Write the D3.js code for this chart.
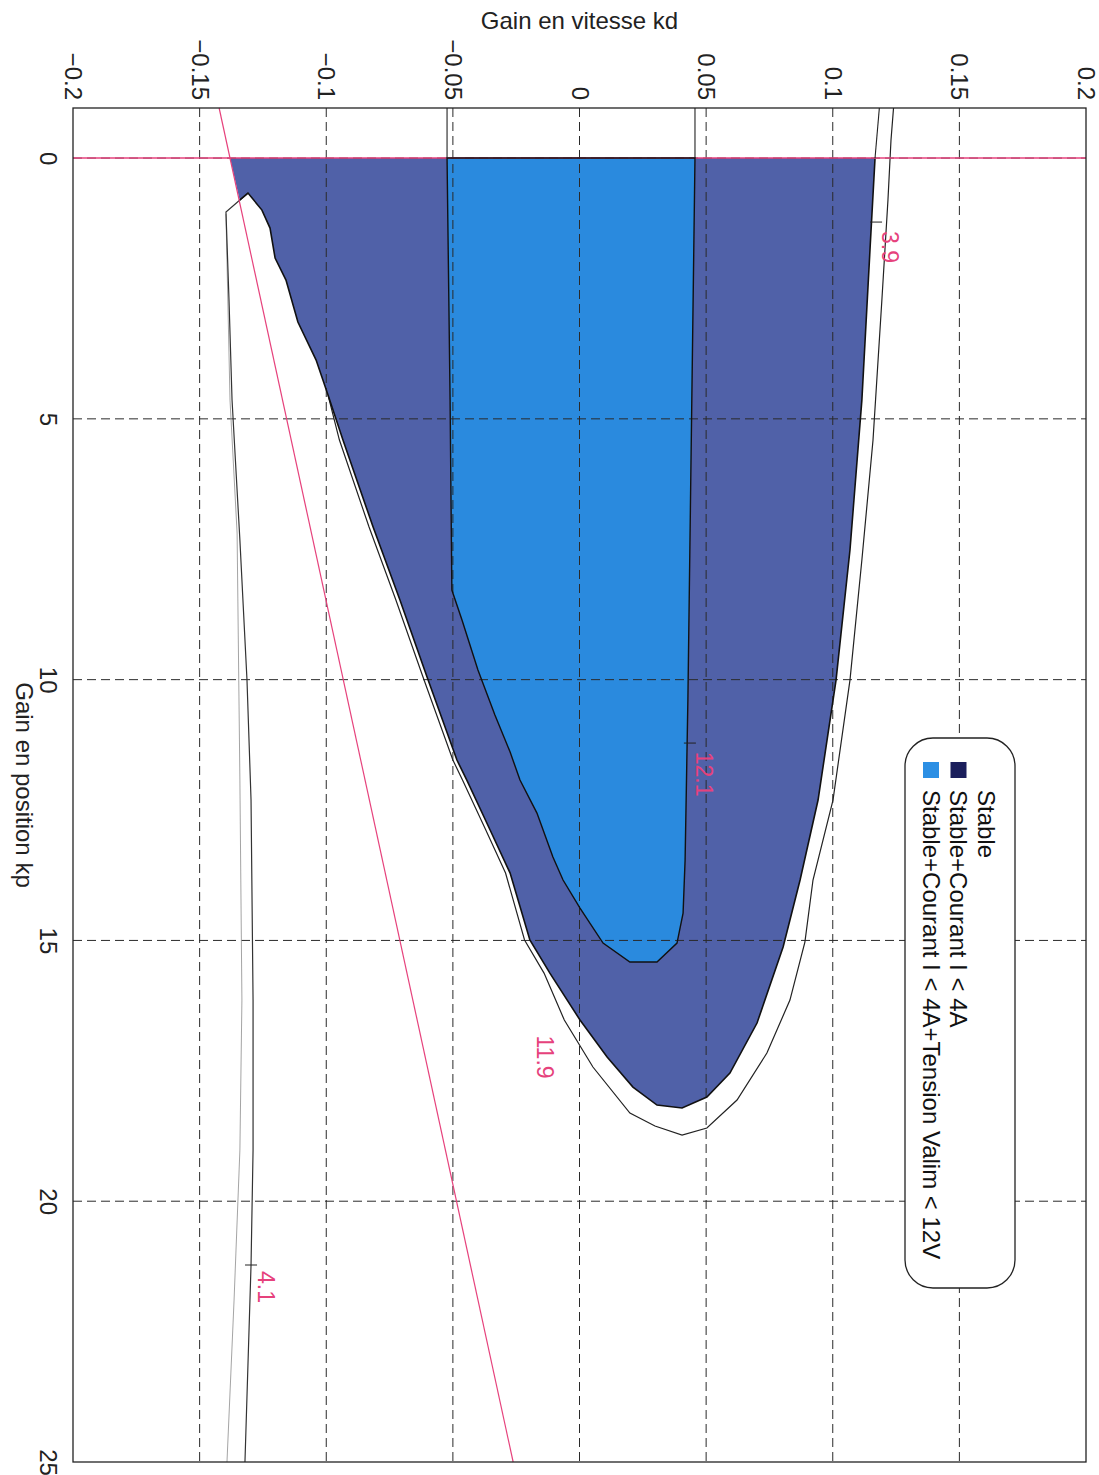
<!DOCTYPE html>
<html>
<head>
<meta charset="utf-8">
<script src="https://cdn.jsdelivr.net/npm/d3@7"></script>
<style>
  body { margin: 0; background: #fff; }
  text { font-family: "Liberation Sans", Arial, sans-serif; }
</style>
</head>
<body>
<svg id="chart"></svg>
<script>
// axis ticks
const kdTicks = [-0.2, -0.15, -0.1, -0.05, 0, 0.05, 0.1, 0.15, 0.2];
const kpTicks = [0, 5, 10, 15, 20, 25];

// zone "Stable+Courant I < 4A"  [kd, kp]
const courantZone = [
  [-0.1380, 0], [-0.1342, 0.805], [-0.1309, 0.671], [-0.1254, 0.997], [-0.1222, 1.342],
  [-0.1202, 1.917], [-0.1159, 2.339], [-0.1112, 3.144], [-0.1040, 3.873], [-0.0993, 4.544],
  [-0.0934, 5.406], [-0.0815, 7.074], [-0.0709, 8.474], [-0.0602, 9.950], [-0.0484, 11.541],
  [-0.0445, 11.925], [-0.0353, 12.883], [-0.0274, 13.708], [-0.0196, 14.992], [-0.0117, 15.626],
  [0.0002, 16.526], [0.0109, 17.236], [0.0211, 17.811], [0.0306, 18.156], [0.0405, 18.213],
  [0.0503, 18.002], [0.0594, 17.542], [0.0701, 16.584], [0.0804, 15.127], [0.0871, 13.842],
  [0.0942, 12.308], [0.1013, 10.008], [0.1068, 7.515], [0.1115, 4.640], [0.1147, 1.764],
  [0.1167, 0]
];

// zone "Stable+Courant I < 4A+Tension Valim < 12V"
const tensionZone = [
  [-0.0523, 0], [0.0456, 0], [0.0428, 10.391], [0.0417, 13.459], [0.0409, 14.475],
  [0.0385, 15.050], [0.0306, 15.414], [0.0199, 15.414], [0.0093, 15.050], [0.0002, 14.379],
  [-0.0065, 13.842], [-0.0105, 13.401], [-0.0168, 12.558], [-0.0235, 11.925], [-0.0274, 11.388],
  [-0.0334, 10.679], [-0.0401, 9.816], [-0.0464, 8.858], [-0.0504, 8.282], [-0.0511, 4.640]
];

// contour 3.9 (outer curve)
const contour39 = [
  [0.1240, -0.96], [0.1230, -0.345], [0.1218, 0.805], [0.1194, 2.722], [0.1159, 5.406],
  [0.1115, 7.707], [0.1068, 10.008], [0.1001, 12.308], [0.0922, 13.842], [0.0890, 15.031],
  [0.0831, 16.143], [0.0740, 17.159], [0.0622, 18.060], [0.0503, 18.597], [0.0405, 18.731],
  [0.0298, 18.558], [0.0199, 18.309], [0.0053, 17.427], [-0.0060, 16.526], [-0.0140, 15.626],
  [-0.0217, 14.992], [-0.0292, 13.708], [-0.0370, 12.883], [-0.0462, 11.925], [-0.0500, 11.541],
  [-0.0618, 9.950], [-0.0725, 8.474], [-0.0831, 7.074], [-0.0948, 5.406], [-0.0993, 4.544]
];

// contour 4.1 (left)
const contour41 = [
  [-0.1309, 0.671], [-0.1396, 1.035], [-0.1384, 2.722], [-0.1372, 4.640], [-0.1341, 7.324],
  [-0.1313, 10.008], [-0.1297, 12.308], [-0.1289, 16.143], [-0.1289, 19.018], [-0.1297, 21.223],
  [-0.1321, 25]
];

// faint contour next to it
const contourFaint = [
  [-0.1396, 1.074], [-0.1380, 4.640], [-0.1352, 7.189], [-0.1341, 11.925], [-0.1333, 16.143],
  [-0.1341, 19.018], [-0.1364, 21.894], [-0.1392, 25]
];

// stability limits (pink)
const limitLine = [[-0.1423, -0.96], [-0.0262, 25]];
const limitKp0 = [[-0.2, 0], [0.2, 0]];

// short contour pieces above kp = 0
const topPieces = [
  [[-0.0523, -0.96], [-0.0523, 0]],
  [[0.0456, -0.96], [0.0456, 0]],
  [[0.1184, -0.96], [0.1167, 0]]
];

// contour labels
const contourLabels = [
  { text: "3.9", kd: 0.1227, kp: 1.706, markKd: 0.1171, markKp: 1.227 },
  { text: "4.1", kd: -0.1238, kp: 21.645, markKd: -0.1297, markKp: 21.223 },
  { text: "12.1", kd: 0.0492, kp: 11.810, markKd: 0.0436, markKp: 11.216 },
  { text: "11.9", kd: -0.0136, kp: 17.236, markKd: null, markKp: null }
];

const legendItems = [
  { label: "Stable", color: "#ffffff" },
  { label: "Stable+Courant I < 4A", color: "#1b1f5c" },
  { label: "Stable+Courant I < 4A+Tension Valim < 12V", color: "#2c8fe4" }
];

const W = 1099, H = 1475;
const pink = "#e6427c";
const svg = d3.select("#chart").attr("width", W).attr("height", H);

const x = d3.scaleLinear().domain([-0.2, 0.2]).range([73, 1086]);
const y = d3.scaleLinear().domain([-0.96, 25]).range([108, 1462]);

const line = d3.line().x(d => x(d[0])).y(d => y(d[1]));

const plot = svg.append("g");

// zones
plot.append("path")
  .attr("d", line(courantZone) + "Z")
  .attr("fill", "#5061a8");

plot.append("path")
  .attr("d", line(tensionZone) + "Z")
  .attr("fill", "#2a8ade");

// grid
const grid = plot.append("g")
  .attr("stroke", "#2a2a2a")
  .attr("stroke-width", 1)
  .attr("stroke-dasharray", "9,5");
grid.selectAll(".vgrid")
  .data(kdTicks.slice(1, -1))
  .enter()
  .append("line")
  .attr("class", "vgrid")
  .attr("x1", d => x(d)).attr("x2", d => x(d))
  .attr("y1", y.range()[0]).attr("y2", y.range()[1]);
grid.selectAll(".hgrid")
  .data(kpTicks.slice(0, -1))
  .enter()
  .append("line")
  .attr("class", "hgrid")
  .attr("y1", d => y(d)).attr("y2", d => y(d))
  .attr("x1", x.range()[0]).attr("x2", x.range()[1]);

// contours
plot.append("path")
  .attr("d", line(contourFaint))
  .attr("fill", "none").attr("stroke", "#9a9a9a").attr("stroke-width", 0.9);
plot.append("path")
  .attr("d", line(contour41))
  .attr("fill", "none").attr("stroke", "#333").attr("stroke-width", 1.2);
plot.append("path")
  .attr("d", line(contour39))
  .attr("fill", "none").attr("stroke", "#222").attr("stroke-width", 1.2);
plot.append("path")
  .attr("d", line(courantZone.slice(1)))
  .attr("fill", "none").attr("stroke", "#111").attr("stroke-width", 1.6);

// pink limits
plot.append("path")
  .attr("d", line(limitKp0))
  .attr("stroke", pink).attr("stroke-width", 1.4);
plot.append("path")
  .attr("d", line(limitLine))
  .attr("stroke", pink).attr("stroke-width", 1.2);

// outline of the tension zone + pieces above kp=0
plot.append("path")
  .attr("d", line(tensionZone) + "Z")
  .attr("fill", "none").attr("stroke", "#111").attr("stroke-width", 1.4);
plot.selectAll(".toppiece")
  .data(topPieces)
  .enter()
  .append("path")
  .attr("class", "toppiece")
  .attr("d", d => line(d))
  .attr("fill", "none").attr("stroke", "#222").attr("stroke-width", 1.1);

// contour labels
const cl = plot.selectAll(".clabel")
  .data(contourLabels)
  .enter()
  .append("g")
  .attr("class", "clabel");
cl.filter(d => d.markKd !== null)
  .append("line")
  .attr("x1", d => x(d.markKd) - 6).attr("x2", d => x(d.markKd) + 6)
  .attr("y1", d => y(d.markKp)).attr("y2", d => y(d.markKp))
  .attr("stroke", "#222").attr("stroke-width", 1);
cl.append("text")
  .attr("transform", d => `translate(${x(d.kd)},${y(d.kp)}) rotate(90)`)
  .attr("text-anchor", "middle")
  .attr("dy", "0.35em")
  .attr("fill", pink)
  .attr("font-size", 23)
  .text(d => d.text);

// frame
plot.append("rect")
  .attr("x", x.range()[0]).attr("y", y.range()[0])
  .attr("width", x.range()[1] - x.range()[0])
  .attr("height", y.range()[1] - y.range()[0])
  .attr("fill", "none").attr("stroke", "#222").attr("stroke-width", 1.3);

// axes
const xAxis = svg.append("g")
  .attr("transform", `translate(0,${y.range()[0]})`)
  .call(d3.axisTop(x).tickValues(kdTicks).tickSize(0).tickFormat(d3.format("")));
xAxis.select(".domain").remove();
xAxis.selectAll("text")
  .attr("font-size", 24)
  .attr("font-family", "Liberation Sans, Arial, sans-serif")
  .attr("fill", "#222")
  .attr("transform", "rotate(90)")
  .attr("x", -8).attr("y", 0).attr("dy", "0.35em")
  .attr("text-anchor", "end");

const yAxis = svg.append("g")
  .attr("transform", `translate(${x.range()[0]},0)`)
  .call(d3.axisLeft(y).tickValues(kpTicks).tickSize(0).tickFormat(d3.format("")));
yAxis.select(".domain").remove();
yAxis.selectAll("text")
  .attr("font-size", 24)
  .attr("font-family", "Liberation Sans, Arial, sans-serif")
  .attr("fill", "#222")
  .attr("x", 0).attr("y", 0).attr("dy", "0.35em")
  .attr("transform", "translate(-25,0) rotate(90)")
  .attr("text-anchor", "middle");

// axis titles
svg.append("text")
  .attr("x", (x.range()[0] + x.range()[1]) / 2)
  .attr("y", 29)
  .attr("text-anchor", "middle")
  .attr("font-size", 24)
  .attr("fill", "#222")
  .text("Gain en vitesse kd");

svg.append("text")
  .attr("transform", `translate(24,${(y.range()[0] + y.range()[1]) / 2}) rotate(90)`)
  .attr("text-anchor", "middle")
  .attr("dy", "0.35em")
  .attr("font-size", 24)
  .attr("fill", "#222")
  .text("Gain en position kp");

// legend
const legend = svg.append("g");
legend.append("rect")
  .attr("x", 905).attr("y", 738)
  .attr("width", 110).attr("height", 550)
  .attr("rx", 28).attr("ry", 28)
  .attr("fill", "#fff").attr("stroke", "#222").attr("stroke-width", 1.3);
const li = legend.selectAll(".litem")
  .data(legendItems)
  .enter()
  .append("g")
  .attr("class", "litem")
  .attr("transform", (d, i) => `translate(${986 - i * 27.5},0)`);
li.append("rect")
  .attr("x", -8).attr("y", 762)
  .attr("width", 16).attr("height", 16)
  .attr("fill", d => d.color);
li.append("text")
  .attr("transform", "translate(0,790) rotate(90)")
  .attr("dy", "0.35em")
  .attr("font-size", 24)
  .attr("fill", "#111")
  .text(d => d.label);
</script>
</body>
</html>
